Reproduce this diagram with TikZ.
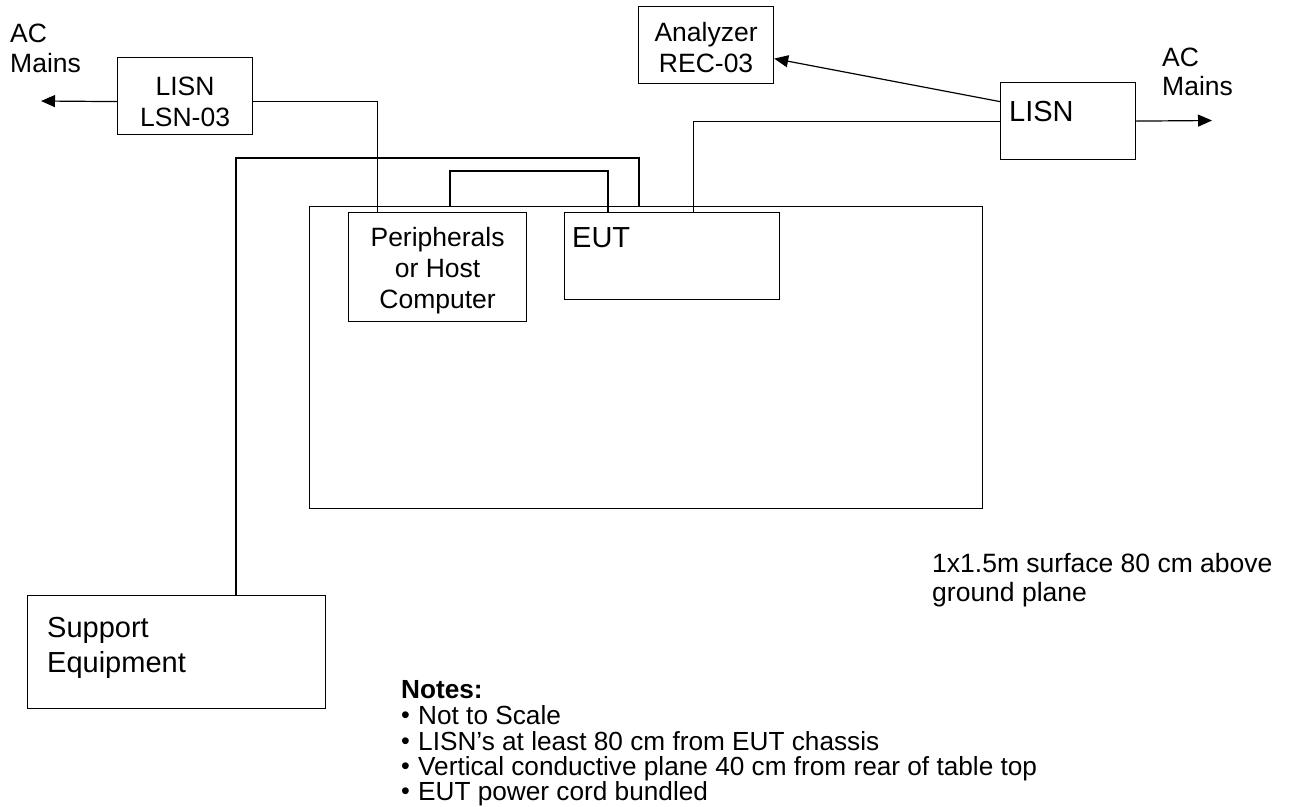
\documentclass[tikz,border=0pt]{standalone}
\usepackage{fontspec}
\setmainfont{Liberation Sans}
\usetikzlibrary{arrows.meta}
\begin{document}
\begin{tikzpicture}[x=1pt,y=-1pt,
  box/.style={draw, line width=1.2pt, inner sep=0pt, anchor=north west},
  txt/.style={font=\fontsize{26.5}{31}\selectfont, inner sep=0pt},
  big/.style={font=\fontsize{29}{34}\selectfont, inner sep=0pt},
  note/.style={font=\fontsize{26.2}{26}\selectfont, inner sep=0pt, anchor=base west},
  wire/.style={line width=1.2pt},
  cable/.style={line width=2pt},
  arr/.style={line width=1.2pt, -{Triangle[length=14pt,width=12pt]}}]
\useasboundingbox (0,0) rectangle (1292,806);

% table surface
\node[box, minimum width=673pt, minimum height=302pt] (table) at (309,206) {};

% boxes
\node[box, minimum width=135pt, minimum height=77pt] (lsn) at (117,57) {};
\node[box, minimum width=135pt, minimum height=77pt] (ana) at (638,6) {};
\node[box, minimum width=135pt, minimum height=77pt] (lisnR) at (1000,82) {};
\node[box, minimum width=178pt, minimum height=109pt] (peri) at (348,212) {};
\node[box, minimum width=215pt, minimum height=87pt] (eut) at (564,212) {};
\node[box, minimum width=298pt, minimum height=113pt] (sup) at (27,595) {};

% box labels
\node[txt, align=center] (lsnlbl) at ([yshift=-6]lsn.center) {LISN\\LSN-03};
\node[txt, align=center] (analbl) at ([yshift=-2]ana.center) {Analyzer\\REC-03};
\node[txt, align=center] (perilbl) at ([yshift=-4]peri.center) {Peripherals\\or Host\\Computer};
\node[big, anchor=base west] (lisnRlbl) at (1009,121) {LISN};
\node[big, anchor=base west] (eutlbl) at (572,247) {EUT};
\node[big, anchor=base west] (suplbl1) at (47,637) {Support};
\node[big, anchor=base west] (suplbl2) at (47,672) {Equipment};

% free texts
\node[txt, anchor=base west] (acL1) at (10,42) {AC};
\node[txt, anchor=base west] (acL2) at (10,72) {Mains};
\node[txt, anchor=base west] (acR1) at (1162,66) {AC};
\node[txt, anchor=base west] (acR2) at (1162,95) {Mains};
\node[txt, anchor=base west] (surf1) at (932,572) {1x1.5m surface 80 cm above};
\node[txt, anchor=base west] (surf2) at (932,601) {ground plane};

% notes
\node[note, font=\fontsize{26.2}{26}\selectfont\bfseries] (notes) at (401,698) {Notes:};
\node[note] (n1) at (401,724) {\makebox[17pt][l]{\fontsize{25}{25}\selectfont\raisebox{0.5pt}{•}}Not to Scale};
\node[note] (n2) at (401,750) {\makebox[17pt][l]{\fontsize{25}{25}\selectfont\raisebox{0.5pt}{•}}LISN’s at least 80 cm from EUT chassis};
\node[note] (n3) at (401,775) {\makebox[17pt][l]{\fontsize{25}{25}\selectfont\raisebox{0.5pt}{•}}Vertical conductive plane 40 cm from rear of table top};
\node[note] (n4) at (401,800) {\makebox[17pt][l]{\fontsize{25}{25}\selectfont\raisebox{0.5pt}{•}}EUT power cord bundled};

% free arrow ends
\coordinate (acLtip) at (41,101);
\coordinate (acRtip) at (1212,120.5);

% connectors
\draw[arr] ([yshift=-5.5]lsn.west) -- (acLtip);
\draw[wire] ([yshift=-5.5]lsn.east) -| ([xshift=-60]peri.north);
\draw[cable] ([xshift=59]sup.north) |- ([xshift=-7.5,yshift=48]table.north) -- ([xshift=-7.5]table.north);
\draw[cable] ([xshift=-196.5]table.north) |- ([xshift=-64.5,yshift=41]eut.north) -- ([xshift=-64.5]eut.north);
\draw[wire] ([xshift=21.5]eut.north) |- (lisnR.west);
\draw[arr] (lisnR.east) -- (acRtip);
\draw[arr] ([yshift=19.5]lisnR.west) -- ([yshift=-13.5]ana.east);
\end{tikzpicture}
\end{document}
